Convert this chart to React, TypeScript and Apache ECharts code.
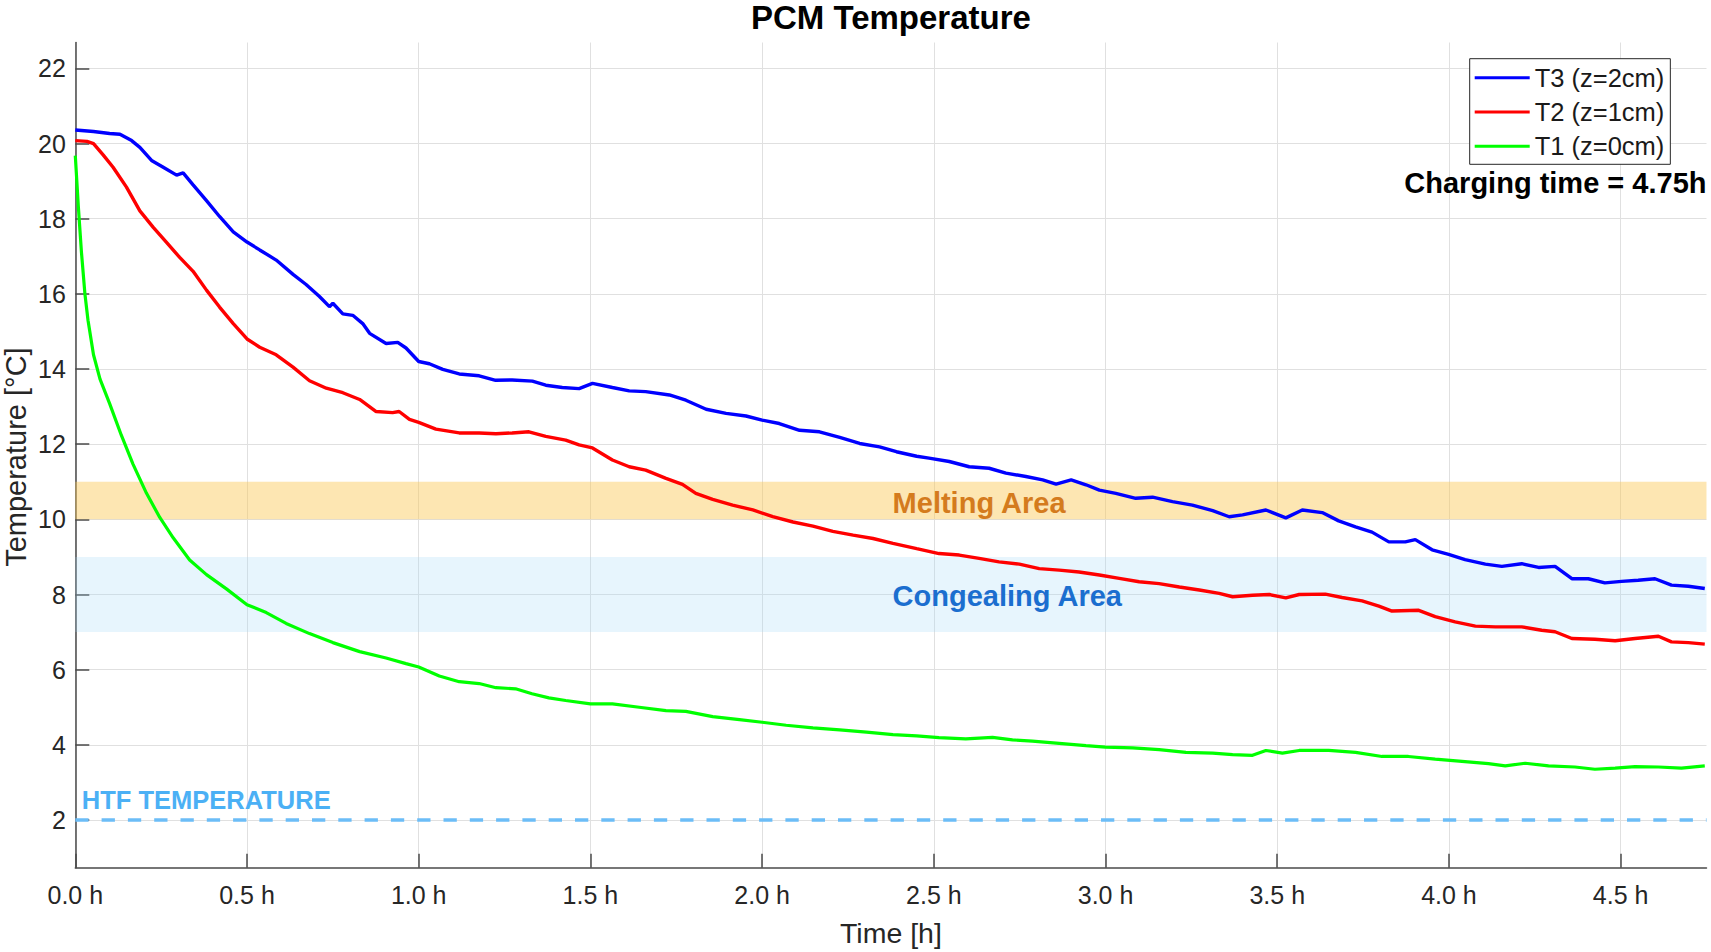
import React, { useEffect, useRef } from "react";
import * as echarts from "echarts";

// ---- data ----
const T3_TIME = [0.0, 0.053, 0.1, 0.13, 0.164, 0.188, 0.222, 0.256, 0.295, 0.314, 0.343, 0.382, 0.42, 0.46, 0.5, 0.537, 0.585, 0.634, 0.672, 0.711, 0.74, 0.75, 0.779, 0.808, 0.837, 0.857, 0.905, 0.939, 0.963, 1.0, 1.031, 1.07, 1.118, 1.176, 1.224, 1.272, 1.331, 1.37, 1.418, 1.467, 1.506, 1.564, 1.613, 1.661, 1.73, 1.778, 1.837, 1.895, 1.953, 2.0, 2.05, 2.109, 2.167, 2.226, 2.284, 2.342, 2.391, 2.45, 2.486, 2.545, 2.603, 2.661, 2.71, 2.768, 2.817, 2.856, 2.9, 2.943, 2.982, 3.03, 3.088, 3.137, 3.195, 3.253, 3.312, 3.36, 3.399, 3.467, 3.525, 3.573, 3.631, 3.679, 3.728, 3.776, 3.825, 3.873, 3.902, 3.951, 3.999, 4.047, 4.106, 4.154, 4.212, 4.261, 4.309, 4.358, 4.406, 4.454, 4.503, 4.551, 4.6, 4.648, 4.697, 4.745];
const T3_TEMP = [20.36, 20.32, 20.27, 20.25, 20.08, 19.9, 19.55, 19.37, 19.16, 19.22, 18.9, 18.48, 18.06, 17.65, 17.38, 17.17, 16.9, 16.52, 16.25, 15.93, 15.66, 15.75, 15.47, 15.43, 15.21, 14.95, 14.68, 14.71, 14.56, 14.2, 14.14, 13.99, 13.87, 13.82, 13.7, 13.71, 13.68, 13.57, 13.51, 13.48, 13.62, 13.51, 13.42, 13.4, 13.31, 13.17, 12.93, 12.82, 12.75, 12.64, 12.55, 12.37, 12.33, 12.18, 12.02, 11.93, 11.8, 11.68, 11.63, 11.54, 11.4, 11.36, 11.23, 11.14, 11.05, 10.94, 11.05, 10.92, 10.78, 10.69, 10.56, 10.59, 10.47, 10.38, 10.23, 10.07, 10.12, 10.25, 10.04, 10.25, 10.18, 9.96, 9.8, 9.66, 9.4, 9.4, 9.46, 9.19, 9.07, 8.93, 8.81, 8.75, 8.82, 8.72, 8.75, 8.42, 8.42, 8.31, 8.35, 8.38, 8.42, 8.25, 8.22, 8.16];

const T2_TIME = [0.0, 0.034, 0.053, 0.081, 0.11, 0.149, 0.188, 0.227, 0.265, 0.304, 0.343, 0.382, 0.42, 0.46, 0.5, 0.537, 0.585, 0.634, 0.682, 0.731, 0.779, 0.828, 0.876, 0.924, 0.943, 0.973, 1.0, 1.05, 1.118, 1.176, 1.225, 1.272, 1.321, 1.37, 1.428, 1.467, 1.506, 1.564, 1.613, 1.661, 1.72, 1.768, 1.807, 1.856, 1.914, 1.973, 2.031, 2.09, 2.148, 2.206, 2.265, 2.323, 2.381, 2.45, 2.515, 2.574, 2.632, 2.69, 2.749, 2.807, 2.865, 2.923, 2.982, 3.04, 3.098, 3.156, 3.215, 3.273, 3.331, 3.37, 3.428, 3.477, 3.525, 3.564, 3.64, 3.689, 3.747, 3.796, 3.834, 3.912, 3.96, 4.018, 4.077, 4.135, 4.212, 4.27, 4.309, 4.358, 4.425, 4.484, 4.542, 4.61, 4.648, 4.697, 4.745];
const T2_TEMP = [20.08, 20.06, 20.0, 19.7, 19.37, 18.84, 18.21, 17.77, 17.38, 16.97, 16.6, 16.1, 15.65, 15.21, 14.8, 14.58, 14.38, 14.05, 13.69, 13.49, 13.37, 13.19, 12.87, 12.84, 12.87, 12.66, 12.58, 12.4, 12.3, 12.3, 12.28, 12.3, 12.33, 12.21, 12.11, 11.98, 11.9, 11.58, 11.4, 11.31, 11.09, 10.93, 10.69, 10.53, 10.38, 10.25, 10.07, 9.93, 9.82, 9.68, 9.58, 9.49, 9.36, 9.22, 9.09, 9.05, 8.96, 8.87, 8.81, 8.69, 8.65, 8.6, 8.52, 8.43, 8.34, 8.29, 8.2, 8.12, 8.03, 7.94, 7.98, 8.0, 7.91, 8.0, 8.01, 7.92, 7.83, 7.69, 7.56, 7.58, 7.41, 7.27, 7.16, 7.14, 7.14, 7.05, 7.01, 6.83, 6.81, 6.77, 6.83, 6.89, 6.74, 6.72, 6.68];

const T1_TIME = [0.0, 0.009, 0.018, 0.028, 0.037, 0.053, 0.072, 0.1, 0.134, 0.168, 0.207, 0.246, 0.285, 0.333, 0.382, 0.44, 0.5, 0.556, 0.614, 0.682, 0.75, 0.828, 0.905, 0.963, 1.0, 1.06, 1.118, 1.176, 1.225, 1.282, 1.33, 1.379, 1.428, 1.5, 1.564, 1.642, 1.72, 1.778, 1.856, 1.934, 2.0, 2.07, 2.148, 2.226, 2.304, 2.381, 2.45, 2.515, 2.593, 2.671, 2.729, 2.787, 2.865, 2.943, 3.0, 3.079, 3.156, 3.234, 3.312, 3.37, 3.428, 3.467, 3.515, 3.564, 3.65, 3.728, 3.805, 3.882, 3.96, 4.038, 4.115, 4.164, 4.222, 4.29, 4.367, 4.425, 4.484, 4.542, 4.61, 4.677, 4.745];
const T1_TEMP = [19.68, 18.3, 17.1, 16.0, 15.3, 14.38, 13.73, 13.08, 12.24, 11.47, 10.7, 10.05, 9.51, 8.92, 8.53, 8.15, 7.73, 7.52, 7.23, 6.96, 6.72, 6.48, 6.31, 6.16, 6.07, 5.83, 5.68, 5.63, 5.52, 5.49, 5.36, 5.25, 5.18, 5.09, 5.09, 5.0, 4.91, 4.89, 4.75, 4.67, 4.6, 4.52, 4.45, 4.4, 4.34, 4.27, 4.24, 4.19, 4.16, 4.2, 4.13, 4.1, 4.04, 3.98, 3.94, 3.92, 3.87, 3.8, 3.78, 3.74, 3.72, 3.85, 3.78, 3.85, 3.85, 3.8, 3.69, 3.69, 3.62, 3.56, 3.5, 3.44, 3.51, 3.44, 3.41, 3.35, 3.38, 3.42, 3.41, 3.38, 3.44];

const SERIES_NAMES = ["T3 (z=2cm)", "T2 (z=1cm)", "T1 (z=0cm)"];
const X_TICKS = [0, 0.5, 1, 1.5, 2, 2.5, 3, 3.5, 4, 4.5];
const Y_TICKS = [2, 4, 6, 8, 10, 12, 14, 16, 18, 20, 22];
const X_RANGE = [0, 4.75];
const Y_RANGE = [0.73, 22.69];
const MELTING_RANGE = [10, 11];
const CONGEALING_RANGE = [7, 9];
const HTF_TEMPERATURE = 2;
const CHARGING_TIME = 4.75;

const FONT = "'Liberation Sans', Arial, Helvetica, sans-serif";

function pairs(t: number[], v: number[]) {
  return t.map((x, i) => [x, v[i]]);
}

export default function App() {
  const ref = useRef<HTMLDivElement>(null);

  useEffect(() => {
    const chart = echarts.init(ref.current!, null, { renderer: "svg" });
    const axisColor = "#4a4a4a";
    const tickText = "#262626";
    const gridColor = "#e0e0e0";

    const option: any = {
      animation: false,
      backgroundColor: "#ffffff",
      grid: { left: 75.3, right: 4.5, top: 42.5, bottom: 84.3, containLabel: false },
      legend: {
        data: SERIES_NAMES,
        orient: "vertical",
        left: 1469.7,
        top: 58.7,
        padding: [6, 6, 5, 5],
        itemWidth: 55,
        itemHeight: 3,
        itemGap: 8.3,
        icon: "rect",
        borderColor: "#262626",
        borderWidth: 1,
        backgroundColor: "#ffffff",
        textStyle: { fontFamily: FONT, fontSize: 25.5, color: "#1a1a1a", lineHeight: 25.5 },
      },
      xAxis: {
        type: "value",
        min: X_RANGE[0],
        max: X_RANGE[1],
        axisLine: { show: true, onZero: false, lineStyle: { color: axisColor, width: 1.5 } },
        axisTick: { show: true, inside: true, length: 14, customValues: X_TICKS, lineStyle: { color: axisColor, width: 1.5 } },
        axisLabel: {
          customValues: X_TICKS,
          margin: 15,
          color: tickText,
          fontFamily: FONT,
          fontSize: 25,
          formatter: (v: number) => v.toFixed(1) + " h",
        },
        splitLine: { show: true, lineStyle: { color: gridColor, width: 1 } },
      },
      yAxis: {
        type: "value",
        min: Y_RANGE[0],
        max: Y_RANGE[1],
        axisLine: { show: true, lineStyle: { color: axisColor, width: 1.5 } },
        axisTick: { show: true, inside: true, length: 14, customValues: Y_TICKS, lineStyle: { color: axisColor, width: 1.5 } },
        axisLabel: {
          customValues: Y_TICKS,
          margin: 9.5,
          color: tickText,
          fontFamily: FONT,
          fontSize: 25,
          formatter: (v: number) => String(Math.round(v)),
        },
        splitLine: { show: true, lineStyle: { color: gridColor, width: 1 } },
      },
      series: [
        {
          name: "bands",
          type: "line",
          data: [],
          z: 1,
          silent: true,
          markArea: {
            silent: true,
            data: [
              [
                { yAxis: MELTING_RANGE[0], itemStyle: { color: "rgba(251,199,84,0.45)" } },
                { yAxis: MELTING_RANGE[1] },
              ],
              [
                { yAxis: CONGEALING_RANGE[0], itemStyle: { color: "rgba(160,215,248,0.25)" } },
                { yAxis: CONGEALING_RANGE[1] },
              ],
            ],
          },
          markLine: {
            silent: true,
            symbol: "none",
            label: { show: false },
            lineStyle: { color: "#6cbdf7", width: 3.5, type: [13.3, 13] },
            data: [{ yAxis: HTF_TEMPERATURE }],
          },
        },
        {
          name: SERIES_NAMES[0],
          type: "line",
          data: pairs(T3_TIME, T3_TEMP),
          showSymbol: false,
          symbol: "none",
          z: 3,
          color: "#0000ff",
          lineStyle: { color: "#0000ff", width: 3.4 },
        },
        {
          name: SERIES_NAMES[1],
          type: "line",
          data: pairs(T2_TIME, T2_TEMP),
          showSymbol: false,
          symbol: "none",
          z: 3,
          color: "#ff0000",
          lineStyle: { color: "#ff0000", width: 3.4 },
        },
        {
          name: SERIES_NAMES[2],
          type: "line",
          data: pairs(T1_TIME, T1_TEMP),
          showSymbol: false,
          symbol: "none",
          z: 3,
          color: "#00ff00",
          lineStyle: { color: "#00ff00", width: 3.2 },
        },
      ],
    };

    chart.setOption(option);

    const px = (x: number, y: number) => chart.convertToPixel({ gridIndex: 0 }, [x, y]) as number[];
    const topLeft = px(X_RANGE[0], Y_RANGE[1]);
    const botRight = px(X_RANGE[1], Y_RANGE[0]);
    const cx = (topLeft[0] + botRight[0]) / 2;
    const cy = (topLeft[1] + botRight[1]) / 2;
    const melt = px(2.38, (MELTING_RANGE[0] + MELTING_RANGE[1]) / 2);
    const cong = px(2.38, (CONGEALING_RANGE[0] + CONGEALING_RANGE[1]) / 2);
    const htf = px(0.022, HTF_TEMPERATURE + 0.52);

    chart.setOption({
      graphic: [
        {
          type: "text",
          x: cx,
          y: 17.5,
          style: { text: "PCM Temperature", font: `bold 33px ${FONT}`, fill: "#000", textAlign: "center", textVerticalAlign: "middle" },
        },
        {
          type: "text",
          x: cx,
          y: 933,
          style: { text: "Time [h]", font: `28.5px ${FONT}`, fill: tickText, textAlign: "center", textVerticalAlign: "middle" },
        },
        {
          type: "text",
          x: 15.5,
          y: cy + 2,
          rotation: Math.PI / 2,
          style: { text: "Temperature [°C]", font: `29px ${FONT}`, fill: tickText, textAlign: "center", textVerticalAlign: "middle" },
        },
        {
          type: "text",
          x: botRight[0],
          y: 183,
          style: { text: `Charging time = ${CHARGING_TIME}h`, font: `bold 29px ${FONT}`, fill: "#000", textAlign: "right", textVerticalAlign: "middle" },
        },
        {
          type: "text",
          x: melt[0],
          y: melt[1] + 2,
          z: 10,
          style: { text: "Melting Area", font: `bold 29px ${FONT}`, fill: "#d47b1d", textAlign: "left", textVerticalAlign: "middle" },
        },
        {
          type: "text",
          x: cong[0],
          y: cong[1] + 1.5,
          z: 10,
          style: { text: "Congealing Area", font: `bold 29px ${FONT}`, fill: "#1b6ecf", textAlign: "left", textVerticalAlign: "middle" },
        },
        {
          type: "text",
          x: htf[0] - 1,
          y: htf[1],
          z: 10,
          style: { text: "HTF TEMPERATURE", font: `bold 25.5px ${FONT}`, fill: "#4bb0f5", textAlign: "left", textVerticalAlign: "middle" },
        },
      ],
    });

    return () => chart.dispose();
  }, []);

  return (
    <div
      ref={ref}
      style={{ position: "fixed", left: 0, top: 0, width: 1711, height: 952, background: "#fff" }}
    />
  );
}
